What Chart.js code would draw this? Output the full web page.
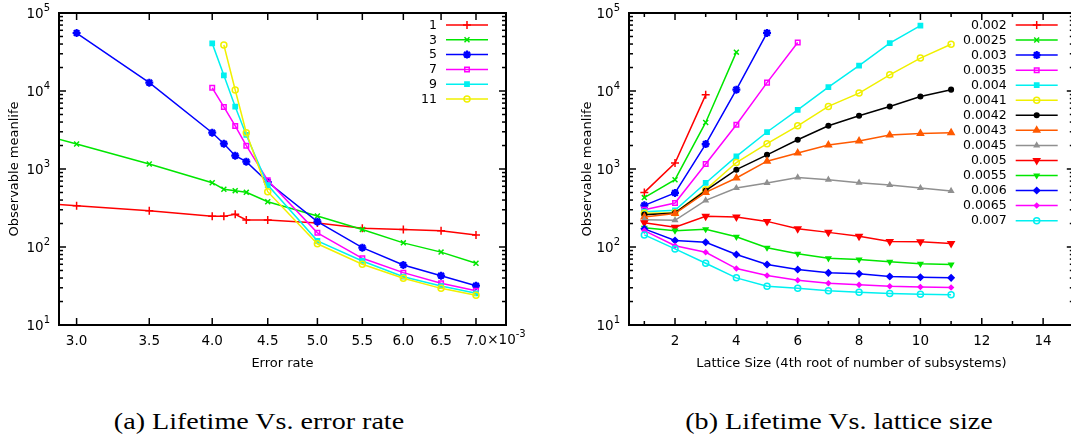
<!DOCTYPE html>
<html>
<head>
<meta charset="utf-8">
<script src="https://cdn.jsdelivr.net/npm/chart.js@4.4.1/dist/chart.umd.min.js"></script>
<style>
  html, body { margin: 0; padding: 0; background: #fff; overflow: hidden; }
  #wrap { position: relative; width: 1071px; height: 437px; overflow: hidden; }
  canvas { position: absolute; top: 0; }
  #c1 { left: 0; }
  #c2 { left: 560px; }
  .cap { position: absolute; top: 408px; width: 320px; text-align: center; white-space: nowrap;
         font-family: "Liberation Serif", serif; font-size: 24px; transform: scaleX(1.17); }
</style>
</head>
<body>
<div id="wrap">
  <canvas id="c1" width="540" height="380"></canvas>
  <canvas id="c2" width="520" height="380"></canvas>
  <div class="cap" style="left:99px">(a) Lifetime Vs. error rate</div>
  <div class="cap" style="left:679px">(b) Lifetime Vs. lattice size</div>
</div>
<script>
// ---- (a) lifetime vs error rate (x in units of 1e-3) ----
const errorRate = [2.5, 3.0, 3.5, 4.0, 4.1, 4.2, 4.3, 4.5, 5.0, 5.5, 6.0, 6.5, 7.0];
const sizesA = ['1', '3', '5', '7', '9', '11'];
const life1  = [400, 338, 292, 248, 247, 262, 222, 222, 203, 174, 168, 162, 143];
const life3  = [4200, 2090, 1160, 667, 550, 528, 502, 381, 250, 168, 113, 86, 62];
const life5  = [null, 55400, 12800, 2920, 2110, 1480, 1240, 681, 211, 98, 58.8, 42.9, 31.9];
const life7  = [null, null, null, 11000, 6240, 3560, 1990, 716, 152, 71.6, 46.9, 34.3, 27.5];
const life9  = [null, null, null, 40800, 15900, 6300, 2730, 623, 120, 66.2, 41.6, 31.6, 25.5];
const life11 = [null, null, null, null, 38900, 10300, 2920, 512, 110, 60, 39.7, 29.5, 24];
const errTicks = [3.0, 3.5, 4.0, 4.5, 5.0, 5.5, 6.0, 6.5, 7.0];

// ---- (b) lifetime vs lattice size ----
const lattice = [1, 2, 3, 4, 5, 6, 7, 8, 9, 10, 11];
const ratesB = ['0.002', '0.0025', '0.003', '0.0035', '0.004', '0.0041', '0.0042',
                '0.0043', '0.0045', '0.005', '0.0055', '0.006', '0.0065', '0.007'];
const r0020 = [501, 1195, 8930];
const r0025 = [430, 729, 3950, 31500];
const r0030 = [342, 493, 2090, 10400, 55600];
const r0035 = [301, 367, 1160, 3690, 12800, 41800];
const r0040 = [284, 295, 662, 1450, 2980, 5740, 11200, 21200, 41000, 69000];
const r0041 = [270, 275, 543, 1210, 2110, 3580, 6340, 9400, 16100, 26400, 39800];
const r0042 = [260, 273, 527, 980, 1520, 2370, 3580, 4810, 6340, 8510, 10400];
const r0043 = [243, 268, 501, 767, 1260, 1600, 2030, 2280, 2720, 2860, 2920];
const r0045 = [224, 220, 396, 571, 662, 780, 729, 668, 624, 571, 523];
const r0050 = [204, 179, 247, 243, 213, 171, 154, 137, 118, 117, 111];
const r0055 = [176, 162, 169, 135, 98, 82, 71.6, 69, 64.5, 60.8, 59.6];
const r0060 = [171, 121, 115, 80, 59.6, 51.4, 46.6, 45.3, 41.8, 40.9, 40.2];
const r0065 = [162, 104, 85.5, 52.9, 43, 37.5, 34.3, 32.7, 31.4, 30.8, 30.2];
const r0070 = [143, 94.6, 61.8, 40.2, 31.4, 29.6, 27.4, 26.3, 25.3, 24.8, 24.4];
const latticeTicks = [2, 4, 6, 8, 10, 12, 14];
const latticeMinor = [1, 3, 5, 7, 9, 11, 13];

const FONT = '"DejaVu Sans", sans-serif';

const RED = '#ff0000', GREEN = '#00e600', BLUE = '#0000ff', MAGENTA = '#ff00ff',
      CYAN = '#00f0f0', YELLOW = '#f0f000', BLACK = '#000000', ORANGE = '#ff5a00', GREY = '#909090';

const M = {
  plus:   { s: 'cross', r: 4 },
  times:  { s: 'crossRot', r: 3.5 },
  star:   { s: 'star', r: 4, w: 2.2 },
  osq:    { s: 'rect', r: 3.2, open: true },
  fsq:    { s: 'rect', r: 3 },
  ocirc:  { s: 'circle', r: 3, open: true },
  fcirc:  { s: 'circle', r: 2.3 },
  ftri:   { s: 'triangle', r: 3.5 },
  stri:   { s: 'triangle', r: 2.6 },
  finv:   { s: 'triangle', r: 3.5, rot: 180 },
  sinv:   { s: 'triangle', r: 2.6, rot: 180 },
  fdia:   { s: 'rectRot', r: 3 },
  sdia:   { s: 'rectRot', r: 2.2 },
};

function ds(label, xs, ys, color, mk, i) {
  return {
    label: label,
    data: ys.map((v, k) => ({ x: xs[k], y: v })),
    borderColor: color,
    backgroundColor: color,
    borderWidth: 1.5,
    pointStyle: mk.s,
    pointRadius: mk.r,
    pointRotation: mk.rot || 0,
    pointBorderColor: color,
    pointBackgroundColor: mk.open ? 'rgba(0,0,0,0)' : color,
    pointBorderWidth: mk.w || 1.5,
    tension: 0,
    fill: false,
    order: -i,
    _mk: mk
  };
}

// frame, inward ticks, exponent labels and a gnuplot style key
function makeFrame(cfg) {
  return {
    id: 'frame',
    afterDraw(chart) {
      const { ctx, chartArea: a } = chart;
      const x = chart.scales.x, y = chart.scales.y;
      const seg = (x1, y1, x2, y2) => { ctx.beginPath(); ctx.moveTo(x1, y1); ctx.lineTo(x2, y2); ctx.stroke(); };
      ctx.save();
      ctx.strokeStyle = '#000';
      ctx.lineWidth = 1.5;
      for (let k = 1; k <= 5; k++) {
        for (let m = 1; m <= 9; m++) {
          const v = m * Math.pow(10, k);
          if (v > 100001) break;
          const py = y.getPixelForValue(v);
          const len = m === 1 ? 7 : 4;
          seg(a.left, py, a.left + len, py);
          seg(a.right, py, a.right - len, py);
        }
      }
      cfg.xMajor.forEach(v => {
        const px = x.getPixelForValue(v);
        seg(px, a.bottom, px, a.bottom - 7);
        seg(px, a.top, px, a.top + 7);
      });
      (cfg.xMinor || []).forEach(v => {
        const px = x.getPixelForValue(v);
        seg(px, a.bottom, px, a.bottom - 4);
        seg(px, a.top, px, a.top + 4);
      });
      ctx.lineWidth = 2;
      ctx.strokeRect(a.left, a.top, a.right - a.left, a.bottom - a.top);

      // y labels 10^k
      ctx.fillStyle = '#000';
      ctx.textBaseline = 'middle';
      for (let k = 1; k <= 5; k++) {
        const py = y.getPixelForValue(Math.pow(10, k));
        ctx.font = '10px ' + FONT;
        const ew = ctx.measureText(String(k)).width;
        const xr = a.left - 9;
        ctx.textAlign = 'left';
        ctx.fillText(String(k), xr - ew, py - 5);
        ctx.font = '13.5px ' + FONT;
        ctx.textAlign = 'right';
        ctx.fillText('10', xr - ew, py + 1);
      }

      // x multiplier after the last tick
      if (cfg.suffix) {
        const px = x.getPixelForValue(cfg.suffix.at);
        ctx.font = '13.5px ' + FONT;
        const w = ctx.measureText(cfg.suffix.label).width;
        ctx.textAlign = 'left';
        ctx.textBaseline = 'top';
        const sx = px + w / 2 + 0.5;
        const tx = '\u00d710';
        ctx.fillText(tx, sx, a.bottom + 9);
        const w2 = ctx.measureText(tx).width;
        ctx.font = '10px ' + FONT;
        ctx.fillText('-3', sx + w2, a.bottom + 4);
      }

      // key
      const L = cfg.legend;
      chart.data.datasets.forEach((d, i) => {
        const ly = L.y0 + i * L.dy;
        ctx.font = L.font + 'px ' + FONT;
        ctx.fillStyle = '#000';
        ctx.textAlign = 'right';
        ctx.textBaseline = 'middle';
        ctx.fillText(d.label, L.x, ly + 0.5);
        ctx.strokeStyle = d.borderColor;
        ctx.lineWidth = 1.5;
        seg(L.x1, ly, L.x2, ly);
        ctx.fillStyle = d.pointBackgroundColor;
        const mk = d._mk;
        ctx.lineWidth = mk.w || 1.5;
        Chart.helpers.drawPoint(ctx, { pointStyle: mk.s, radius: mk.r, rotation: mk.rot || 0, borderWidth: mk.w || 1.5 },
          (L.x1 + L.x2) / 2, ly);
      });
      ctx.restore();
    }
  };
}

function yAxis(width, titlePad) {
  return {
    type: 'logarithmic', min: 10, max: 100000,
    grid: { display: false, drawTicks: false },
    border: { display: false },
    ticks: { display: false },
    title: { display: true, text: 'Observable meanlife', color: '#000',
             font: { family: FONT, size: 13 }, padding: { top: titlePad, bottom: 0 } },
    afterFit: s => { s.width = width; }
  };
}

function xTitle(text) {
  return { display: true, text: text, color: '#000',
           font: { family: FONT, size: 13 }, padding: { top: 0, bottom: 9 } };
}

const colorsA = [RED, GREEN, BLUE, MAGENTA, CYAN, YELLOW];
const marksA = [M.plus, M.times, M.star, M.osq, M.fsq, M.ocirc];
const seriesA = [life1, life3, life5, life7, life9, life11];

new Chart(document.getElementById('c1'), {
  type: 'line',
  data: { datasets: seriesA.map((s, i) => ds(sizesA[i], errorRate, s, colorsA[i], marksA[i], i)) },
  options: {
    responsive: false, devicePixelRatio: 1, animation: false,
    layout: { padding: { top: 13, right: 34, left: 0, bottom: 0 } },
    plugins: { legend: { display: false }, tooltip: { enabled: false } },
    scales: {
      x: {
        type: 'logarithmic', min: 2.89, max: 7.46,
        grid: { display: false, drawTicks: false, tickLength: 0 },
        border: { display: false },
        ticks: { color: '#000', font: { family: FONT, size: 13.5 }, padding: 8,
                 autoSkip: false, maxRotation: 0, callback: v => Number(v).toFixed(1) },
        afterBuildTicks: s => { s.ticks = errTicks.map(v => ({ value: v })); },
        title: xTitle('Error rate'),
        afterFit: s => { s.height = 55; }
      },
      y: yAxis(59, 7)
    }
  },
  plugins: [makeFrame({
    xMajor: errTicks,
    suffix: { at: 7.0, label: '7.0' },
    legend: { x: 437, x1: 446, x2: 488, y0: 25, dy: 14.8, font: 12.5 }
  })]
});

const colorsB = [RED, GREEN, BLUE, MAGENTA, CYAN, YELLOW, BLACK, ORANGE, GREY, RED, GREEN, BLUE, MAGENTA, CYAN];
const marksB = [M.plus, M.times, M.star, M.osq, M.fsq, M.ocirc, M.fcirc, M.ftri, M.stri, M.finv, M.sinv, M.fdia, M.sdia, M.ocirc];
const seriesB = [r0020, r0025, r0030, r0035, r0040, r0041, r0042, r0043, r0045, r0050, r0055, r0060, r0065, r0070];

new Chart(document.getElementById('c2'), {
  type: 'line',
  data: { datasets: seriesB.map((s, i) => ds(ratesB[i], lattice, s, colorsB[i], marksB[i], i)) },
  options: {
    responsive: false, devicePixelRatio: 1, animation: false,
    layout: { padding: { top: 13, right: 4, left: 0, bottom: 0 } },
    plugins: { legend: { display: false }, tooltip: { enabled: false } },
    scales: {
      x: {
        type: 'linear', min: 0.5, max: 15,
        grid: { display: false, drawTicks: false, tickLength: 0 },
        border: { display: false },
        ticks: { color: '#000', font: { family: FONT, size: 13.5 }, padding: 8,
                 autoSkip: false, maxRotation: 0, callback: v => String(v) },
        afterBuildTicks: s => { s.ticks = latticeTicks.map(v => ({ value: v })); },
        title: xTitle('Lattice Size (4th root of number of subsystems)'),
        afterFit: s => { s.height = 55; }
      },
      y: yAxis(69, 20)
    }
  },
  plugins: [makeFrame({
    xMajor: latticeTicks,
    xMinor: latticeMinor,
    legend: { x: 446.7, x1: 455.7, x2: 497.7, y0: 25, dy: 15.05, font: 12.5 }
  })]
});
</script>
</body>
</html>
